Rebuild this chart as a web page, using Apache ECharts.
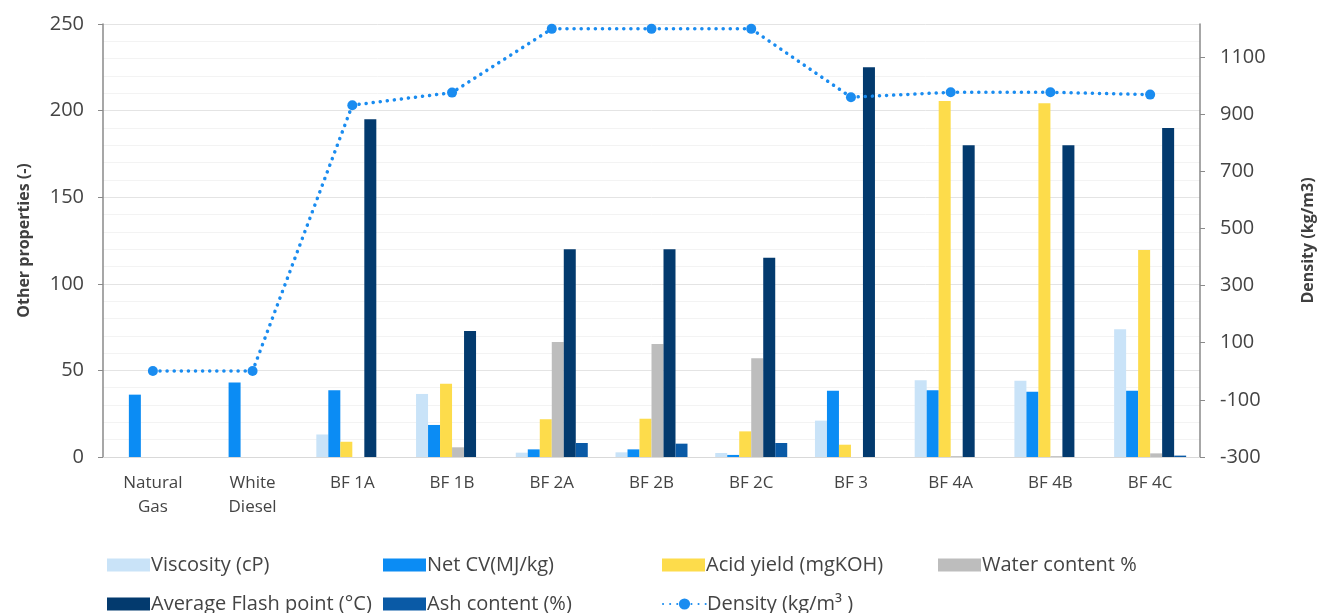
<!DOCTYPE html>
<html>
<head>
<meta charset="utf-8">
<script src="https://cdn.jsdelivr.net/npm/echarts@6/dist/echarts.min.js"></script>
<style>
html,body{margin:0;padding:0;background:#fff;}
#chart{width:1317px;height:613px;}
</style>
</head>
<body>
<div id="chart"></div>
<script>
const categories = ['Natural\nGas', 'White\nDiesel', 'BF 1A', 'BF 1B', 'BF 2A', 'BF 2B', 'BF 2C', 'BF 3', 'BF 4A', 'BF 4B', 'BF 4C'];
const viscosity   = [null, null, 13, 36.4, 2.5, 2.7, 2.3, 21, 44.3, 44, 73.7];
const netCV       = [36, 43, 38.5, 18.5, 4.4, 4.4, 1.2, 38.3, 38.5, 37.7, 38.3];
const acidYield   = [null, null, 8.8, 42.3, 21.8, 22.1, 14.8, 7.1, 205.5, 204.2, 119.5];
const waterContent= [null, null, null, 5.6, 66.4, 65.2, 57, null, 0.5, 0.5, 2.1];
const flashPoint  = [null, null, 195, 72.7, 120, 120, 115, 225, 180, 180, 190];
const ashContent  = [null, null, null, null, 8.1, 7.7, 8.1, null, null, null, 0.8];
const density     = [0.7, 0.8, 931, 975, 1198, 1198, 1198, 959, 976, 976, 968];
const leftTicks = { min: 0, max: 250, interval: 50 };
const rightTicks = { min: -300, max: 1215, interval: 200 };

const FONT = '"Open Sans", Lato, sans-serif';
const colors = {
  visc: '#c9e3f8', cv: '#0b8cf4', acid: '#fddc4b', water: '#bdbdbd',
  flash: '#033a6e', ash: '#0a5aa6', dens: '#1a8cf0'
};
const chart = echarts.init(document.getElementById('chart'));

function bar(name, data, color) {
  return { name, type: 'bar', data, barWidth: 12, barGap: '0%', itemStyle: { color }, yAxisIndex: 0 };
}
function leg(name, left, top, extra) {
  return Object.assign({
    data: [name], left, top, itemWidth: 43, itemHeight: 13, itemGap: 0,
    icon: 'rect', textStyle: { fontFamily: FONT, fontSize: 20, color: '#444', padding: [0, 0, 0, -4] }
  }, extra || {});
}

chart.setOption({
  animation: false,
  textStyle: { fontFamily: FONT },
  grid: { left: 103, right: 117, top: 24, bottom: 156, containLabel: false, outerBoundsMode: 'none' },
  legend: [
    leg('Viscosity (cP)', 102, 550),
    leg('Net CV(MJ/kg)', 378, 550),
    leg('Acid yield (mgKOH)', 657, 550),
    leg('Water content %', 933, 550),
    leg('Average Flash point (°C)', 102, 589),
    leg('Ash content (%)', 378, 589),
    leg('Density (kg/m³ )', 657, 589, { icon: null, itemHeight: 14 })
  ],
  xAxis: {
    type: 'category', data: categories,
    axisLine: { lineStyle: { color: '#d9d9d9', width: 1 } },
    axisTick: { show: false },
    axisLabel: { fontFamily: FONT, fontSize: 17, color: '#444', margin: 14, lineHeight: 24, interval: 0 }
  },
  yAxis: [
    {
      type: 'value', min: leftTicks.min, max: leftTicks.max, interval: leftTicks.interval,
      name: 'Other properties (-)', nameLocation: 'middle', nameGap: 71, nameRotate: 90,
      nameTextStyle: { fontFamily: FONT, fontSize: 16, fontWeight: 'bold', color: '#404040' },
      axisLine: { show: true, lineStyle: { color: '#8a8a8a', width: 1.5 } },
      axisTick: { show: true, length: 5, lineStyle: { color: '#8a8a8a' } },
      axisLabel: { fontFamily: FONT, fontSize: 20, color: '#444', margin: 19 },
      splitLine: { show: true, lineStyle: { color: '#e4e4e4', width: 1 } },
      minorTick: { show: false, splitNumber: 5 },
      minorSplitLine: { show: true, lineStyle: { color: '#f3f3f3', width: 1 } }
    },
    {
      type: 'value', min: rightTicks.min, max: rightTicks.max, interval: rightTicks.interval,
      name: 'Density (kg/m3)', nameLocation: 'middle', nameGap: 116, nameRotate: 90,
      nameTextStyle: { fontFamily: FONT, fontSize: 16, fontWeight: 'bold', color: '#404040', verticalAlign: 'bottom' },
      axisLine: { show: true, lineStyle: { color: '#8a8a8a', width: 1.5 } },
      axisTick: { show: true, length: 5, lineStyle: { color: '#8a8a8a' } },
      axisLabel: { fontFamily: FONT, fontSize: 20, color: '#444', margin: 20, showMaxLabel: false, formatter: v => String(v) },
      splitLine: { show: false }
    }
  ],
  series: [
    bar('Viscosity (cP)', viscosity, colors.visc),
    bar('Net CV(MJ/kg)', netCV, colors.cv),
    bar('Acid yield (mgKOH)', acidYield, colors.acid),
    bar('Water content %', waterContent, colors.water),
    bar('Average Flash point (°C)', flashPoint, colors.flash),
    bar('Ash content (%)', ashContent, colors.ash),
    {
      name: 'Density (kg/m³ )', type: 'line', yAxisIndex: 1, data: density,
      symbol: 'circle', symbolSize: 10,
      lineStyle: { type: [0.1, 7], width: 3.5, color: colors.dens, cap: 'round' },
      itemStyle: { color: colors.dens }, z: 5
    }
  ]
});
</script>
</body>
</html>
